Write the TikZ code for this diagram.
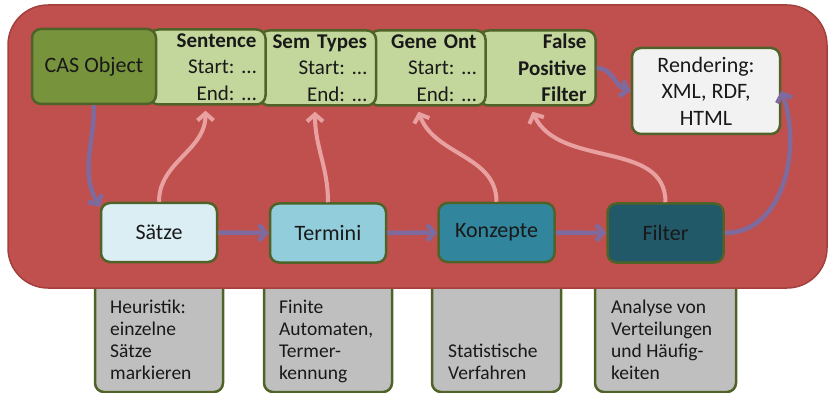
\documentclass[tikz,border=0pt]{standalone}
\usepackage{fontspec}
\setmainfont{Carlito}
\usetikzlibrary{arrows.meta}

\definecolor{panelred}{HTML}{C0504D}
\definecolor{paneledge}{HTML}{A3403D}
\definecolor{boxline}{HTML}{4F6228}
\definecolor{casgreen}{HTML}{77933C}
\definecolor{slotgreen}{HTML}{C3D69B}
\definecolor{renderfill}{HTML}{F2F2F2}
\definecolor{saetzefill}{HTML}{DAEEF3}
\definecolor{terminifill}{HTML}{92CDDC}
\definecolor{konzeptfill}{HTML}{31859C}
\definecolor{filterfill}{HTML}{215968}
\definecolor{notegray}{HTML}{BFBFBF}
\definecolor{flowc}{HTML}{7F6A9E}
\definecolor{backc}{HTML}{E8A1A0}

\newcommand{\slotdots}{\kern-3pt…}

\begin{document}
\begin{tikzpicture}[x=1pt,y=-1pt,
    box/.style={draw=boxline, line width=2.5pt, rounded corners=9pt, inner sep=0pt,
      text=black!90, font=\fontsize{22}{26.5}\selectfont},
    slot/.style={box, fill=slotgreen, text width=98pt, inner xsep=9pt, align=right,
      minimum height=75pt, font=\fontsize{21}{26.5}\selectfont},
    stage/.style={box, minimum width=116pt, minimum height=59pt},
    note/.style={box, fill=notegray, minimum height=140pt},
    notetext/.style={anchor=base west, inner sep=0pt, align=left, text=black!90,
      font=\fontsize{19.5}{22}\selectfont},
    flow/.style={draw=flowc, line width=4.5pt, -{Straight Barb[length=7pt,width=16pt]}},
    back/.style={draw=backc, line width=4pt, -{Straight Barb[length=7pt,width=16pt]}}]

  \useasboundingbox (0,0) rectangle (828,393);

  % notes under the panel
  \node[note, minimum width=128pt] (gsaetze) at (159,322) {};
  \node[note, minimum width=128pt] (gtermini) at (328,322) {};
  \node[note, minimum width=129pt] (gkonzepte) at (496.5,322) {};
  \node[note, minimum width=141pt] (gfilter) at (665.5,322) {};

  % anchor base = baseline of the last line
  \node[notetext] (theur) at (110,379) {Heuristik:\\einzelne\\Sätze\\markieren};
  \node[notetext] (tfin) at (279,379) {Finite\\Automaten,\\Termer-\\kennung};
  \node[notetext] (tstat) at (448,379) {Statistische\\Verfahren};
  \node[notetext] (tanal) at (611,379) {Analyse von\\Verteilungen\\und Häufig-\\keiten};

  % panel
  \draw[fill=panelred, draw=paneledge, line width=1.5pt, rounded corners=40pt]
    (8,5) rectangle (827,288);

  % top row (right to left, so the left box lies on top)
  \node[slot] (fpfilter) at (537.5,68) {\textbf{False}\\\textbf{Positive}\\\textbf{Filter}};
  \node[slot] (geneont) at (427.5,68) {\textbf{Gene Ont}\\Start: \slotdots\\End: \slotdots};
  \node[slot] (semtypes) at (318,68) {\textbf{Sem Types}\\Start: \slotdots\\End: \slotdots};
  \node[slot] (sentence) at (207.5,67) {\textbf{Sentence}\\Start: \slotdots\\End: \slotdots};
  \node[box, fill=casgreen, minimum width=124pt, minimum height=75pt] (cas) at (94,66.5) {CAS Object};

  \node[box, fill=renderfill, align=center, minimum width=148pt, minimum height=86pt]
    (render) at (706,91) {Rendering:\\XML, RDF,\\HTML};

  % bottom row
  \node[stage, fill=saetzefill] (saetze) at (159,232.5) {Sätze};
  \node[stage, fill=terminifill] (termini) at (328,233) {Termini};
  \node[stage, fill=konzeptfill] (konzepte) at (496.5,232.5) {Konzepte};
  \node[stage, fill=filterfill] (filter) at (665.5,233) {Filter};

  % pipeline
  \draw[flow] (cas.south) to[out=-90,in=120] ([yshift=-5pt]saetze.north west);
  \draw[flow] (saetze) -- (termini);
  \draw[flow] (termini) -- (konzepte);
  \draw[flow] (konzepte) -- (filter);
  \draw[flow] (filter.east) to[out=0,in=-70] (render.east);
  \draw[flow] (fpfilter.east) to[out=0,in=165] (render.west);

  % annotations back into the CAS
  \draw[back] (saetze.north) to[out=90,in=-90] ([xshift=-2pt,yshift=-5pt]sentence.south);
  \draw[back] (termini.north) to[out=90,in=-90] ([xshift=-3pt,yshift=-5pt]semtypes.south);
  \draw[back] (konzepte.north) to[out=90,in=-70] ([xshift=-9pt,yshift=-5pt]geneont.south);
  \draw[back] (filter.north) to[out=90,in=-65] ([xshift=-5pt,yshift=-5pt]fpfilter.south);

\end{tikzpicture}
\end{document}
